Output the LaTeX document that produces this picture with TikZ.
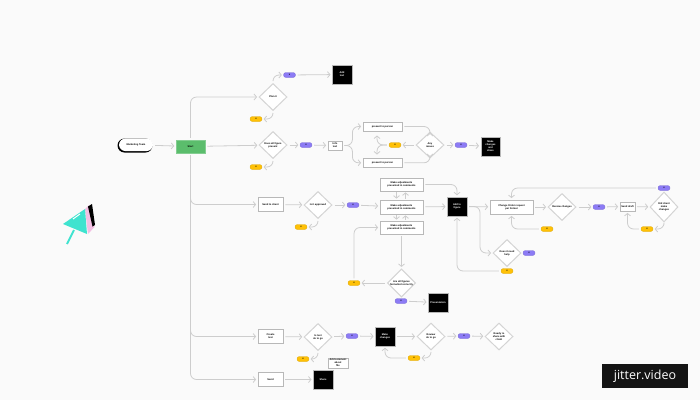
\documentclass[tikz,border=0pt]{standalone}
\usepackage{fontspec}
\setmainfont{Liberation Sans}
\newfontfamily\brandfont{Open Sans}
\usetikzlibrary{arrows.meta,shapes.geometric}
\definecolor{bgc}{HTML}{FAFAFA}
\definecolor{linec}{HTML}{CDCDCD}
\definecolor{boxc}{HTML}{B8B8B8}
\definecolor{dmc}{HTML}{D4D4D4}
\definecolor{yelc}{HTML}{FFC107}
\definecolor{purc}{HTML}{8C7BF5}
\definecolor{grnc}{HTML}{5BBD6C}
\definecolor{turc}{HTML}{3FE3CF}
\definecolor{pnkc}{HTML}{F3BFE3}
\tikzset{
  tiny text/.style={font=\fontsize{2.5}{3}\selectfont\bfseries,align=center,text=black,inner sep=0pt},
  conn/.style={draw=linec,line width=.8pt,-{Straight Barb[length=2.5pt,width=6pt]},rounded corners=6pt,shorten >=1.5pt,shorten <=2pt},
  wbox/.style={tiny text,rectangle,draw=boxc,line width=.8pt,fill=white,minimum width=#1,minimum height=14pt},
  dm/.style={tiny text,diamond,aspect=1,draw=dmc,line width=1pt,fill=white,minimum width=28pt,minimum height=27pt},
  yel/.style={tiny text,rectangle,rounded corners=2.4pt,draw=yelc!85!black,line width=.3pt,fill=yelc,minimum width=12pt,minimum height=5pt},
  pur/.style={tiny text,rectangle,rounded corners=2.4pt,draw=purc!85!black,line width=.3pt,fill=purc,minimum width=12pt,minimum height=5pt},
  blk/.style={tiny text,text=white,rectangle,draw=boxc,line width=.5pt,fill=black,minimum width=19.5pt,minimum height=19pt,
    path picture={\fill[gray] (path picture bounding box.north west) rectangle ++(3.5pt,-1pt);}},
}
\begin{document}
\begin{tikzpicture}[x=1pt,y=-1pt]
\useasboundingbox[fill=bgc] (0,0) rectangle (700,400);

% logo
\fill[pnkc] (85,209) -- (89,205) -- (94.5,227) -- (88,234) -- cycle;
\fill[black] (88,206.5) -- (92,204) -- (95,225) -- (92.5,226.5) -- cycle;
\draw[turc,line width=2pt] (74,230) -- (67,244);
\fill[turc] (63,224) -- (85,209) -- (87,234) -- cycle;
\draw[white,line width=1pt] (73,219) -- (80,214);

% nodes
\node[tiny text,rectangle,rounded corners=7pt,fill=black,minimum width=35pt,minimum height=14pt] at (135,145.5) {};
\node[tiny text,rectangle,rounded corners=6.5pt,fill=white,minimum width=34pt,minimum height=12.5pt] (start) at (136,144.8) {Marketing Team};
\node[tiny text,rectangle,draw=grnc!75!white,line width=.5pt,fill=grnc,minimum width=29pt,minimum height=13pt] (grn) at (190.5,146.5) {Start};

\node[dm] (d1) at (273,97) {Plan it};
\node[yel] (y1) at (256,119) {x};
\node[pur] (p1) at (289.5,75) {x};
\node[blk] (b1) at (342,74.5) {Add\\text};

\node[dm] (d2) at (273,145) {Does all figure\\present};
\node[yel] (y2) at (256,167) {x};
\node[pur] (p2) at (306,145) {x};
\node[wbox=14pt,minimum height=9pt] (sb) at (335,145.5) {Info\\text};
\node[wbox=39pt,minimum height=9pt] (bt) at (382.5,126.5) {present to person};
\node[wbox=39pt,minimum height=9.5pt] (bb) at (382.5,162.8) {present to person};
\node[dm,minimum height=26pt] (d3) at (430,145) {Any\\issues};
\node[yel] (y3) at (395,145) {x};
\node[pur] (p3) at (461,145) {x};
\node[blk] (b3) at (490.5,146.5) {Make\\changes\\and\\share};
\coordinate (fu) at (377,134);
\coordinate (fd) at (377,156);

\node[wbox=25pt] (b2) at (270.5,204.5) {Send to client};
\node[dm] (d4) at (318,205) {Is it approved};
\node[yel] (y4) at (301,227) {x};
\node[pur] (p4) at (353,205) {x};
\node[wbox=43pt,minimum height=13pt] (s1) at (401.5,184.5) {Make adjustments\\presented in comments};
\node[wbox=43pt] (s2) at (401.5,207) {Make adjustments\\presented in comments};
\node[wbox=43pt,minimum height=13pt] (s3) at (401.5,227.5) {Make adjustments\\presented in comments};
\node[blk] (b4) at (457,206.5) {Add to\\figure};
\node[dm] (d5) at (401.5,283) {Are all figures\\formatted correctly};
\node[yel] (y5) at (354,283) {x};
\node[pur] (p5) at (401,301) {x};
\node[blk] (b5) at (438,302.5) {Presentation};

\node[wbox=43pt] (t) at (511.5,207) {Change Order request\\per format};
\node[dm] (d6) at (562,207) {Review changes};
\node[pur] (p6) at (599,207) {x};
\node[wbox=15pt,minimum height=9pt] (u) at (627.5,206.5) {Send draft};
\node[dm,minimum height=30pt] (d7) at (664,207) {Did client\\make\\changes};
\node[pur] (p7) at (664,188) {x};
\node[yel] (y7) at (547,229) {x};
\node[yel] (y8) at (647,229) {x};
\node[dm] (d8) at (507,253) {Does it need\\help};
\node[pur] (p8) at (529,253) {x};
\node[yel] (y9) at (507,271) {x};

\node[wbox=25pt] (c1) at (270.5,336.5) {Create\\text};
\node[dm] (d9) at (318,337) {Is text\\ok to go};
\node[yel] (y10) at (303,359) {x};
\node[pur] (p9) at (352,336) {x};
\node[blk] (b6) at (385,336.5) {Make\\changes};
\node[dm] (d10) at (431,336.5) {Review\\ok to go};
\node[yel] (y11) at (414,358) {x};
\node[pur] (p10) at (464,336) {x};
\node[dm] (d11) at (499,336.5) {Ready to\\share with\\client};
\node[wbox=25pt] (c2) at (270.5,379.5) {Send};
\node[blk] (b7) at (323,379.5) {Share};
\node[tiny text,rectangle,draw=boxc,line width=.5pt,fill=white,minimum width=20pt,minimum height=10pt] (note) at (338,363) {Add comment\\about\\file};

% connectors
\draw[conn] (start) -- (grn);
\draw[conn] (grn.north) |- (d1.west);
\draw[conn] (grn) -- (d2);
\draw[conn] (grn.south) |- (b2.west);
\draw[conn] (grn.south) |- (c1.west);
\draw[conn] (grn.south) |- (c2.west);
\draw[conn] (d1.north) |- (p1.west);
\draw[conn] (d1.south) |- (y1.east);
\draw[conn] (p1) -- (b1);
\draw[conn] (d2.south) |- (y2.east);
\draw[conn] (d2) -- (p2);
\draw[conn] (p2) -- (sb);
\draw[conn] (sb.east) -- ++(10,0) |- (bt.west);
\draw[conn] (sb.east) -- ++(10,0) |- (bb.west);
\draw[conn] (bt.east) -| (d3.north);
\draw[conn] (bb.east) -| (d3.south);
\draw[conn] (d3) -- (y3);
\draw[conn] (y3.west) -| (fu);
\draw[conn] (y3.west) -| (fd);
\draw[conn] (d3) -- (p3);
\draw[conn] (p3) -- (b3);

\draw[conn] (b2) -- (d4);
\draw[conn] (d4.south) |- (y4.east);
\draw[conn] (d4) -- (p4);
\draw[conn] (p4) -- (s2);
\draw[conn,shorten <=1pt,shorten >=1pt] ([xshift=-5pt]s1.south) -- ([xshift=-5pt]s2.north);
\draw[conn,shorten <=1pt,shorten >=1pt] ([xshift=4pt]s2.north) -- ([xshift=4pt]s1.south);
\draw[conn,shorten <=1pt,shorten >=1pt] ([xshift=-5pt]s2.south) -- ([xshift=-5pt]s3.north);
\draw[conn,shorten <=1pt,shorten >=1pt] ([xshift=4pt]s3.north) -- ([xshift=4pt]s2.south);
\draw[conn] (s1.east) -| (b4.north);
\draw[conn] (s2) -- (b4);
\draw[conn] (s3) -- (d5);
\draw[conn] (d5) -- (y5);
\draw[conn] (y5.north) |- (s3.west);
\draw[conn] (p5) -- (b5);

\draw[conn] (b4) -- (t);
\draw[conn] (b4.east) -- ++(13,0) |- (d8.west);
\draw[conn] (y9.west) -| (b4.south);
\draw[conn] (t) -- (d6);
\draw[conn] (d6) -- (p6);
\draw[conn] (p6) -- (u);
\draw[conn] (u) -- (d7);
\draw[conn] (d7.south) |- (y8.east);
\draw[conn] (y8.west) -| (u.south);
\draw[conn] (y7.west) -| (t.south);
\draw[conn] (p7.west) -| (t.north);

\draw[conn] (c1) -- (d9);
\draw[conn] (d9.south) |- (y10.east);
\draw[conn] (d9) -- (p9);
\draw[conn] (p9) -- (b6);
\draw[conn] (b6) -- (d10);
\draw[conn] (d10.south) |- (y11.east);
\draw[conn] (y11.west) -| (b6.south);
\draw[conn] (d10) -- (p10);
\draw[conn] (p10) -- (d11);
\draw[conn] (c2) -- (b7);

% brand
\node[rectangle,fill=black!92!bgc,minimum width=86pt,minimum height=24pt,inner sep=0pt,text=white,font=\brandfont\fontsize{12.5}{14}\selectfont] (brand) at (645,376) {jitter.video};
\end{tikzpicture}
\end{document}
